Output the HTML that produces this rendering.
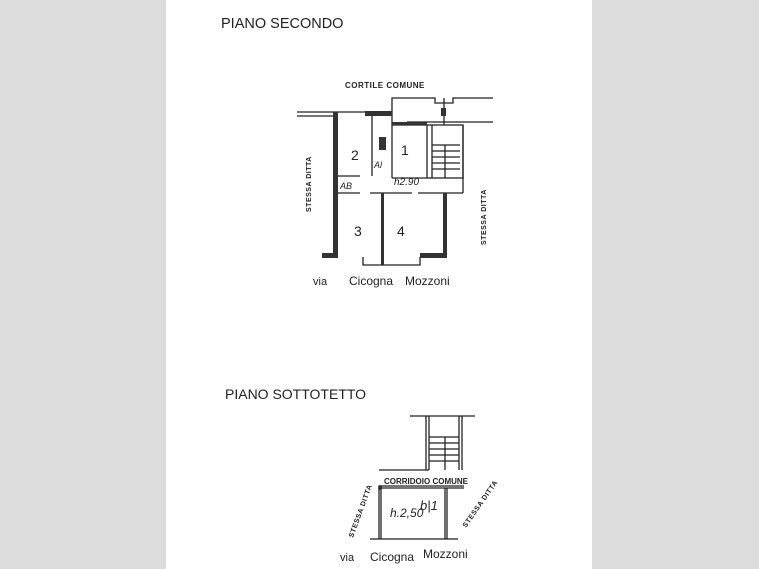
<!DOCTYPE html>
<html><head><meta charset="utf-8"><style>
html,body{margin:0;padding:0;width:759px;height:569px;overflow:hidden;background:#dcdcdc}
svg{display:block}
text{font-family:"Liberation Sans",sans-serif;fill:#222}
</style></head><body>
<svg width="759" height="569" viewBox="0 0 759 569">
<rect x="166" y="0" width="426" height="569" fill="#fff"/>
<text x="221" y="28" font-size="14.5">PIANO SECONDO</text>
<text x="345" y="88" font-size="8" font-weight="bold" letter-spacing="0.5">CORTILE COMUNE</text>
<g stroke="#222" fill="none" stroke-width="1.3">
<!-- top lines -->
<line x1="297" y1="112" x2="392" y2="112"/>
<line x1="297" y1="116" x2="334" y2="116"/>
<polyline points="392,125 392,98 435,98 435,103 453,103 453,98 493,98"/>
<line x1="407" y1="122" x2="493" y2="122"/>
<line x1="392" y1="125" x2="427" y2="125"/>
<!-- stair -->
<rect x="427" y="125" width="36" height="53"/>
<line x1="432" y1="125" x2="432" y2="178"/>
<line x1="445" y1="145" x2="445" y2="178"/>
<line x1="432" y1="145" x2="460" y2="145"/>
<line x1="432" y1="151" x2="460" y2="151"/>
<line x1="432" y1="157" x2="460" y2="157"/>
<line x1="432" y1="163" x2="460" y2="163"/>
<line x1="432" y1="169" x2="460" y2="169"/>
<line x1="463" y1="125" x2="463" y2="193"/>
<line x1="444" y1="98" x2="444" y2="125"/>
<!-- partitions -->
<line x1="372" y1="116" x2="372" y2="176"/>
<line x1="392" y1="125" x2="392" y2="178"/>
<line x1="338" y1="176" x2="360" y2="176"/>
<line x1="392" y1="178" x2="427" y2="178"/>
<line x1="338" y1="193" x2="360" y2="193"/>
<line x1="370" y1="193" x2="412" y2="193"/>
<line x1="418" y1="193" x2="463" y2="193"/>
<polyline points="363,257 363,265 420,265 420,257"/>
<line x1="322" y1="254" x2="338" y2="254"/>
<line x1="420" y1="254" x2="447" y2="254"/>
</g>
<g fill="#333">
<rect x="365" y="111" width="27" height="5"/>
<rect x="333" y="112" width="5" height="145"/>
<rect x="322" y="253" width="16" height="5"/>
<rect x="420" y="253" width="27" height="5"/>
<rect x="443" y="193" width="4" height="64"/>
<rect x="381" y="193" width="3" height="72"/>
<rect x="392" y="122" width="35" height="3"/>
<rect x="379" y="137" width="7" height="13"/>
<rect x="441" y="108" width="5" height="8"/>
</g>
<text x="351" y="160" font-size="14" font-family="Liberation Serif">2</text>
<text x="401" y="155" font-size="14" font-family="Liberation Serif">1</text>
<text x="354" y="236" font-size="14" font-family="Liberation Serif">3</text>
<text x="397" y="236" font-size="14" font-family="Liberation Serif">4</text>
<text x="374" y="168" font-size="9" font-style="italic">Al</text>
<text x="394" y="185" font-size="10" font-style="italic">h2.90</text>
<text x="340" y="189" font-size="9" font-style="italic">AB</text>
<text transform="translate(311,212) rotate(-90)" font-size="7" font-weight="bold" letter-spacing="0.5">STESSA DITTA</text>
<text transform="translate(486,245) rotate(-90)" font-size="7" font-weight="bold" letter-spacing="0.5">STESSA DITTA</text>
<text x="313" y="285" font-size="11">via</text>
<text x="349" y="285" font-size="12">Cicogna</text>
<text x="405" y="285" font-size="12">Mozzoni</text>

<text x="225" y="399" font-size="14">PIANO SOTTOTETTO</text>
<g stroke="#222" fill="none" stroke-width="1.3">
<line x1="410" y1="416" x2="475" y2="416"/>
<line x1="426" y1="416" x2="426" y2="470"/>
<line x1="429" y1="416" x2="429" y2="470"/>
<line x1="459" y1="416" x2="459" y2="470"/>
<line x1="462" y1="416" x2="462" y2="470"/>
<line x1="429" y1="437" x2="459" y2="437"/>
<line x1="429" y1="443" x2="459" y2="443"/>
<line x1="429" y1="449" x2="459" y2="449"/>
<line x1="429" y1="455" x2="459" y2="455"/>
<line x1="429" y1="461" x2="459" y2="461"/>
<line x1="445" y1="437" x2="445" y2="470"/>
<line x1="379" y1="470" x2="429" y2="470"/>
<line x1="379" y1="486" x2="464" y2="486"/>
<line x1="379" y1="488" x2="464" y2="488"/>
<rect x="379" y="486" width="2" height="3"/>
<line x1="379" y1="486" x2="379" y2="539"/>
<line x1="381" y1="486" x2="381" y2="539"/>
<line x1="445" y1="488" x2="445" y2="539"/>
<line x1="447" y1="488" x2="447" y2="539"/>
<line x1="370" y1="539" x2="458" y2="539"/>
</g>
<text x="384" y="484" font-size="8" font-weight="bold">CORRIDOIO COMUNE</text>
<text x="390" y="517" font-size="12" font-style="italic">h.2,50</text>
<text x="420" y="510" font-size="13" font-style="italic">b|1</text>
<text transform="translate(353,538) rotate(-70)" font-size="7" font-weight="bold" letter-spacing="0.5">STESSA DITTA</text>
<text transform="translate(466,528) rotate(-55)" font-size="7" font-weight="bold" letter-spacing="0.5">STESSA DITTA</text>
<text x="340" y="561" font-size="11">via</text>
<text x="370" y="561" font-size="12">Cicogna</text>
<text x="423" y="558" font-size="12">Mozzoni</text>
</svg>
</body></html>
